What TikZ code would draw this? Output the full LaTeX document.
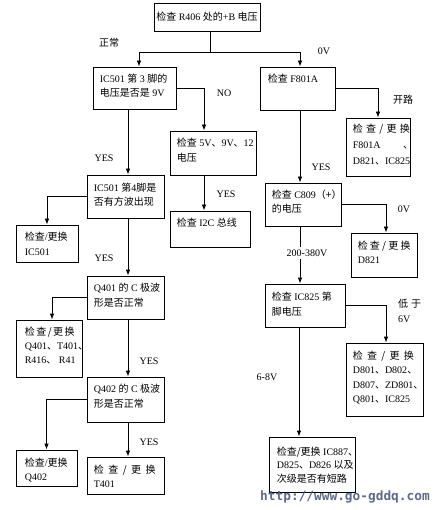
\documentclass[tikz,border=0pt]{standalone}
\usepackage{fontspec}
\setmainfont{Liberation Serif}
\newfontfamily\cjk{Noto Sans CJK SC}
\newfontfamily\wmfont{DejaVu Sans Mono}
\usetikzlibrary{arrows.meta,calc}
\newcommand\zh[1]{{\cjk #1}}
\newcommand\jc[1]{\zh{检\hspace{#1}查\hspace{#1}/\hspace{#1}更\hspace{#1}换}}
\definecolor{wm}{RGB}{75,90,125}
\begin{document}
\begin{tikzpicture}[x=1pt,y=-1pt,
  bx/.style={draw, line width=0.8pt, inner sep=0pt},
  tx/.style={anchor=north west, inner sep=0pt, align=left, font=\fontsize{10}{14}\selectfont},
  lab/.style={font=\fontsize{10}{12}\selectfont, inner sep=1pt},
  arr/.style={-{Latex[length=6pt,width=4.5pt]}, line width=0.8pt},
  ln/.style={line width=0.8pt}]
\useasboundingbox (0,0) rectangle (439,510);
% boxes
\node[bx, minimum width=106, minimum height=28] (top) at (207,17) {};
\node[bx, minimum width=83, minimum height=42] (ic3) at (134.5,88) {};
\node[bx, minimum width=75, minimum height=43] (f801) at (297.5,88.5) {};
\node[bx, minimum width=86, minimum height=44] (v5) at (213,153) {};
\node[bx, minimum width=80, minimum height=36] (i2c) at (210,229) {};
\node[bx, minimum width=77, minimum height=43] (ic4) at (125.5,196.5) {};
\node[bx, minimum width=62, minimum height=37] (r1) at (47,243.5) {};
\node[bx, minimum width=77, minimum height=43] (q401) at (125.5,297.5) {};
\node[bx, minimum width=66, minimum height=57] (r2) at (49,348.5) {};
\node[bx, minimum width=77, minimum height=45] (q402) at (125.5,399.5) {};
\node[bx, minimum width=61, minimum height=36] (r3) at (46.5,468) {};
\node[bx, minimum width=77, minimum height=37] (t401) at (125.5,475.5) {};
\node[bx, minimum width=64, minimum height=58] (rf) at (378,147) {};
\node[bx, minimum width=76, minimum height=43] (c809) at (303,204.5) {};
\node[bx, minimum width=66, minimum height=44] (d821) at (384,255) {};
\node[bx, minimum width=80, minimum height=43] (ic825) at (305,305.5) {};
\node[bx, minimum width=77, minimum height=73] (rd) at (384.5,379.5) {};
\node[bx, minimum width=86, minimum height=55] (last) at (312,464.5) {};
% texts
\node[lab] (ttop) at (top) {\zh{检查} R406 \zh{处的}+B \zh{电压}};
\node[tx] (tic3) at ([shift={(7,7.5)}]ic3.north west) {IC501 \zh{第} 3 \zh{脚的}\\\zh{电压是否是} 9V};
\node[tx] (tf801) at ([shift={(8,7.5)}]f801.north west) {\zh{检查} F801A};
\node[tx, font=\fontsize{10}{15}\selectfont] (tv5) at ([shift={(7,7)}]v5.north west) {\zh{检查} 5V\zh{、}9V\zh{、}12\\\zh{电压}};
\node[tx] (ti2c) at ([shift={(7,7)}]i2c.north west) {\zh{检查} I2C \zh{总线}};
\node[tx] (tic4) at ([shift={(7,8)}]ic4.north west) {IC501 \zh{第}4\zh{脚是}\\\zh{否有方波出现}};
\node[tx, font=\fontsize{10}{15}\selectfont] (tr1) at ([shift={(9,7)}]r1.north west) {\zh{检查}/\zh{更换}\\IC501};
\node[tx, font=\fontsize{10}{15}\selectfont] (tq401) at ([shift={(7,7)}]q401.north west) {Q401 \zh{的} C \zh{极波}\\\zh{形是否正常}};
\node[tx] (tr2) at ([shift={(9,7)}]r2.north west) {\jc{1.5pt}\\Q401\zh{、}T401\zh{、}\\R416\zh{、} R41};
\node[tx, font=\fontsize{10}{15}\selectfont] (tq402) at ([shift={(7,7)}]q402.north west) {Q402 \zh{的} C \zh{极波}\\\zh{形是否正常}};
\node[tx] (tr3) at ([shift={(9,8)}]r3.north west) {\zh{检查}/\zh{更换}\\Q402};
\node[tx] (tt401) at ([shift={(7,8)}]t401.north west) {\jc{4.5pt}\\T401};
\node[tx, font=\fontsize{10}{16}\selectfont] (trf) at ([shift={(7,6)}]rf.north west) {\jc{3.3pt}\\F801A \qquad\zh{、}\\D821\zh{、}IC825};
\node[tx] (tc809) at ([shift={(7,7)}]c809.north west) {\zh{检查} C809\zh{（+）}\\\zh{的电压}};
\node[tx] (td821) at ([shift={(7,8)}]d821.north west) {\jc{2.2pt}\\D821};
\node[tx, font=\fontsize{10}{15}\selectfont] (tic825) at ([shift={(7,8)}]ic825.north west) {\zh{检查} IC825 \zh{第}\\\zh{脚电压}};
\node[tx, font=\fontsize{10}{14.5}\selectfont] (trd) at ([shift={(7,8)}]rd.north west) {\jc{4.3pt}\\D801\zh{、}D802\zh{、}\\D807\zh{、}ZD801\zh{、}\\Q801\zh{、}IC825};
\node[tx, font=\fontsize{10}{13.5}\selectfont] (tlast) at ([shift={(8,10)}]last.north west) {\zh{检查/更换} IC887\zh{、}\\D825\zh{、}D826 \zh{以及}\\\zh{次级是否有短路}};
% connectors
\coordinate (j1) at ($(top.south)+(3,21)$);
\draw[ln] ([xshift=3]top.south) -- (j1);
\draw[arr] (j1) -| ([xshift=4.5]ic3.north);
\draw[arr] (j1) -| ([xshift=2.5]f801.north);
\draw[arr] (ic3.east) -| ([xshift=-9]v5.north);
\draw[arr] ([xshift=-9]v5.south) -- ([xshift=-9]v5.south |- i2c.north);
\draw[arr] ([xshift=-6.5]ic3.south) -- ([xshift=-6.5]ic3.south |- ic4.north);
\draw[arr] (ic4.west) -| (r1.north);
\draw[arr] ([xshift=2.5]ic4.south) -- ([xshift=2.5]ic4.south |- q401.north);
\draw[arr] (q401.west) -| ([xshift=3]r2.north);
\draw[arr] ([xshift=2.5]q401.south) -- ([xshift=2.5]q401.south |- q402.north);
\draw[arr] (q402.west) -| (r3.north);
\draw[arr] ([xshift=2.5]q402.south) -- ([xshift=2.5]q402.south |- t401.north);
\draw[arr] (f801.east) -| (rf.north);
\draw[arr] ([xshift=2.5]f801.south) -- ([xshift=2.5]f801.south |- c809.north);
\draw[arr] (c809.east) -| ([xshift=2]d821.north);
\draw[arr] ([xshift=-3]c809.south) -- ([xshift=-3]c809.south |- ic825.north);
\draw[arr] (ic825.east) -| ([xshift=1.5]rd.north);
\draw[arr] ([xshift=-6]ic825.south) -- ([xshift=-6]ic825.south |- last.north);
% labels
\node[lab] (l1) at (109,43) {\zh{正常}};
\node[lab] (l2) at (324,51) {0V};
\node[lab] (l3) at (224,93) {NO};
\node[lab] (l4) at (226,194) {YES};
\node[lab] (l5) at (104,158) {YES};
\node[lab] (l6) at (104,258) {YES};
\node[lab] (l7) at (149,361) {YES};
\node[lab] (l8) at (149,442) {YES};
\node[lab] (l9) at (403,100) {\zh{开路}};
\node[lab] (l10) at (321,167) {YES};
\node[lab] (l11) at (404,209) {0V};
\node[lab, fill=white, inner ysep=3pt] (l12) at (307,253) {200-380V};
\node[lab, align=left, anchor=west, font=\fontsize{10}{15}\selectfont] (l13) at (397,311) {\zh{低\hspace{3pt}于}\\6V};
\node[lab] (l14) at (267,377) {6-8V};
% watermark
\node[font=\wmfont\bfseries\fontsize{12.8}{14}\selectfont, text=wm, opacity=0.9, inner sep=0pt] (wmk) at (345,497) {http://www.go-gddq.com};
\end{tikzpicture}
\end{document}
